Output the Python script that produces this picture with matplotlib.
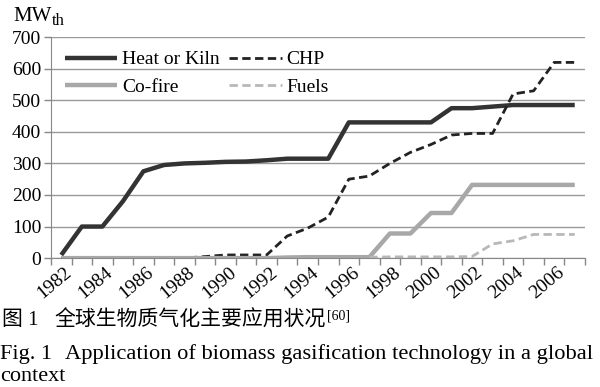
import numpy as np
import matplotlib
matplotlib.use('Agg')
import matplotlib.pyplot as plt
from matplotlib import transforms

# data
years = list(range(1982, 2008))
heat_kiln = [10, 100, 100, 180, 275, 295, 300, 302, 305, 306, 310, 315, 315, 315,
             430, 430, 430, 430, 430, 475, 475, 480, 485, 485, 485, 485]
chp = [0, 0, 0, 0, 0, 0, 0, 5, 10, 10, 10, 70, 95, 130,
       250, 260, 300, 335, 360, 390, 395, 395, 520, 530, 620, 620]
co_fire = [0, 0, 0, 0, 0, 0, 0, 0, 0, 0, 0, 2, 3, 3,
           3, 3, 78, 78, 143, 143, 232, 232, 232, 232, 232, 232]
fuels = [np.nan] * 15 + [3, 4, 4, 4, 4, 5, 45, 55, 75, 75, 75]
tick_years = [str(y) for y in range(1982, 2008, 2)]

plt.rcParams['font.family'] = ['Liberation Serif', 'Noto Sans CJK SC']

fig = plt.figure(figsize=(6, 3.87), dpi=100)
ax = fig.add_axes([0.085, 0.333, 0.89, 0.571])

x = np.arange(len(years))
h1, = ax.plot(x, heat_kiln, color='#333333', lw=3.2, label='Heat or Kiln', solid_capstyle='butt')
h2, = ax.plot(x, chp, color='#222222', lw=2.0, ls=(0, (3, 1.6)), label='CHP')
h3, = ax.plot(x, co_fire, color='#a8a8a8', lw=3.2, label='Co-fire', solid_capstyle='butt')
h4, = ax.plot(x, fuels, color='#b8b8b8', lw=2.0, ls=(0, (3, 1.6)), label='Fuels')

ax.set_xlim(-0.5, len(years) - 0.5)
ax.set_ylim(0, 700)
ax.set_yticks(range(0, 701, 100))
ax.yaxis.grid(True, color='#999999', lw=1)
ax.set_axisbelow(True)

# ticks on category boundaries, labels on every other category
ax.set_xticks(np.arange(-0.5, len(years), 1.0))
ax.set_xticklabels([])
ax.set_xticks(x[::2], tick_years, minor=True)
ax.tick_params(axis='x', which='major', length=5, width=1, color='#888888', direction='out')
ax.tick_params(axis='x', which='minor', length=0, labelsize=14, pad=4)
ax.tick_params(axis='y', length=5, width=1, color='#888888', labelsize=14, pad=2)
off = transforms.ScaledTranslation(2 / 72, 0, fig.dpi_scale_trans)
for lab in ax.get_xticklabels(minor=True):
    lab.set_rotation(40)
    lab.set_ha('right')
    lab.set_rotation_mode('anchor')
    lab.set_transform(lab.get_transform() + off)

for s in ['top', 'right']:
    ax.spines[s].set_visible(False)
for s in ['left', 'bottom']:
    ax.spines[s].set_color('#888888')

# column-major fill: Heat/Co-fire in column 1, CHP/Fuels in column 2
leg = ax.legend([h1, h3, h2, h4], ['Heat or Kiln', 'Co-fire', 'CHP', 'Fuels'],
                loc='upper left', ncol=2, frameon=False, fontsize=14,
                handlelength=2.7, handletextpad=0.25, columnspacing=0.5,
                labelspacing=0.5, bbox_to_anchor=(0.0, 1.0), borderaxespad=0.3)

# unit label
mw = fig.text(0.023, 0.958, 'MW', fontsize=15, va='center', ha='left')
ax.annotate('th', xy=(1, 0), xycoords=mw, fontsize=12, va='bottom', ha='left',
            xytext=(0, -2), textcoords='offset points', annotation_clip=False)

# captions
fig.text(0.003, 0.173, '图 1', fontsize=15, va='center', ha='left')
cn = fig.text(0.09, 0.173, '全球生物质气化主要应用状况', fontsize=15, va='center', ha='left',
              family=['Noto Sans CJK SC'])
ax.annotate('[60]', xy=(1, 1), xycoords=cn, fontsize=10, va='top', ha='left',
            xytext=(1, 0), textcoords='offset points', annotation_clip=False)
fig.text(0.0, 0.085, 'Fig. 1', fontsize=16, va='center', ha='left')
fig.text(0.108, 0.085, 'Application of biomass gasification technology in a global',
         fontsize=16.2, va='center', ha='left')
fig.text(0.0, 0.028, 'context', fontsize=16, va='center', ha='left')

fig.savefig('out.png', dpi=100)
